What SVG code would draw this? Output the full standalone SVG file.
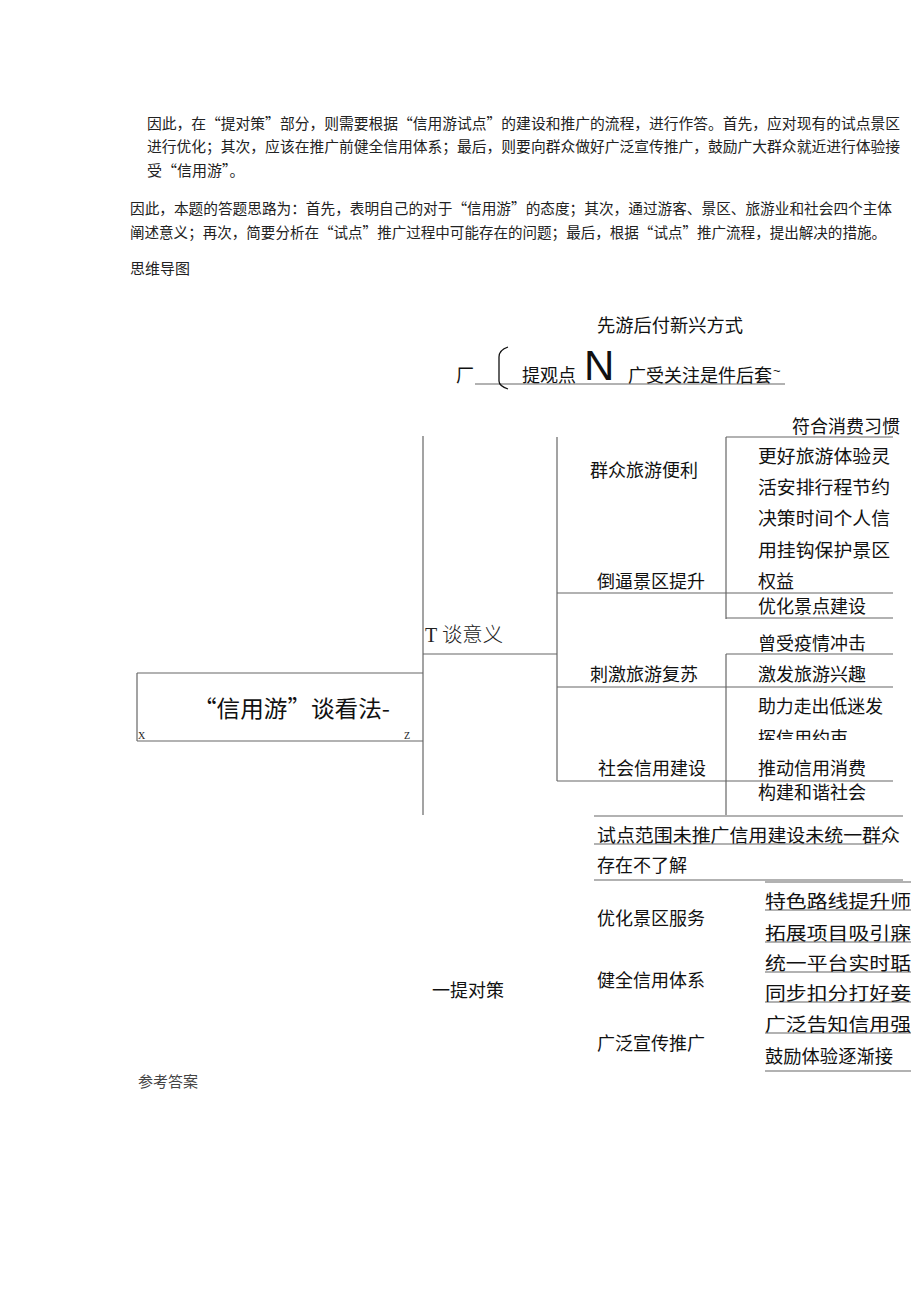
<svg xmlns="http://www.w3.org/2000/svg" width="920" height="1301" viewBox="0 0 920 1301">
<style>
.p{font-family:"Noto Sans CJK SC","Noto Sans CJK JP",sans-serif;font-size:15px;fill:#222}
.t{font-family:"Noto Sans CJK SC","Noto Sans CJK JP",sans-serif;font-size:18px;fill:#111}
.s{font-family:"Liberation Serif",serif;fill:#222}
.ln{stroke:#666;stroke-width:1.2;fill:none}
</style>
<defs>
<clipPath id="cut"><rect x="740" y="720" width="170" height="20"/></clipPath>
</defs>
<rect width="920" height="1301" fill="#fff"/>
<g id="intro">
<text class="p" x="147" y="129" textLength="753" lengthAdjust="spacingAndGlyphs">因此，在“提对策”部分，则需要根据“信用游试点”的建设和推广的流程，进行作答。首先，应对现有的试点景区</text>
<text class="p" x="147" y="152" textLength="753" lengthAdjust="spacingAndGlyphs">进行优化；其次，应该在推广前健全信用体系；最后，则要向群众做好广泛宣传推广，鼓励广大群众就近进行体验接</text>
<text class="p" x="147" y="176">受“信用游”。</text>
<text class="p" x="130" y="214" textLength="762" lengthAdjust="spacingAndGlyphs">因此，本题的答题思路为：首先，表明自己的对于“信用游”的态度；其次，通过游客、景区、旅游业和社会四个主体</text>
<text class="p" x="130" y="238" textLength="756" lengthAdjust="spacingAndGlyphs">阐述意义；再次，简要分析在“试点”推广过程中可能存在的问题；最后，根据“试点”推广流程，提出解决的措施。</text>
<text class="p" x="130" y="274">思维导图</text>
<text class="p" x="138" y="1087" style="fill:#444">参考答案</text>
</g>
<g id="connectors">
<line class="ln" x1="475" y1="384" x2="785" y2="384"/>
<path d="M508,347 Q499,350 499,357 L499,381 Q499,386 508,389" stroke="#111" stroke-width="1.3" fill="none"/>
<line class="ln" x1="137" y1="673" x2="423" y2="673"/>
<line class="ln" x1="137" y1="741" x2="423" y2="741"/>
<line class="ln" x1="137" y1="673" x2="137" y2="741"/>
<line class="ln" x1="423" y1="436" x2="423" y2="815"/>
<line class="ln" x1="423" y1="654" x2="557" y2="654"/>
<line class="ln" x1="557" y1="437" x2="557" y2="781"/>
<line class="ln" x1="726" y1="437" x2="726" y2="619"/>
<line class="ln" x1="726" y1="654" x2="726" y2="815"/>
<line class="ln" x1="726" y1="437" x2="893" y2="437"/>
<line class="ln" x1="557" y1="593" x2="893" y2="593"/>
<line class="ln" x1="726" y1="618" x2="893" y2="618"/>
<line class="ln" x1="726" y1="654" x2="893" y2="654"/>
<line class="ln" x1="557" y1="687" x2="893" y2="687"/>
<line class="ln" x1="557" y1="781" x2="893" y2="781"/>
<line class="ln" x1="594" y1="816" x2="903" y2="816"/>
<line class="ln" x1="594" y1="844" x2="883" y2="844"/>
<line class="ln" x1="594" y1="880" x2="903" y2="880"/>
<line class="ln" x1="765" y1="882" x2="911" y2="882"/>
<line class="ln" x1="765" y1="910" x2="911" y2="910"/>
<line class="ln" x1="765" y1="942" x2="911" y2="942"/>
<line class="ln" x1="765" y1="972" x2="911" y2="972"/>
<line class="ln" x1="765" y1="1002" x2="911" y2="1002"/>
<line class="ln" x1="765" y1="1033" x2="911" y2="1033"/>
<line class="ln" x1="765" y1="1071" x2="911" y2="1071"/>
</g>
<g id="top-branch">
<text class="t" x="597" y="332" textLength="146" lengthAdjust="spacingAndGlyphs">先游后付新兴方式</text>
<text class="t" x="456" y="382">厂</text>
<text class="t" x="522" y="382">提观点</text>
<text x="584" y="380" style="font-family:'Liberation Sans',sans-serif;font-size:42px;fill:#111">N</text>
<text class="t" x="628" y="382">广受关注是件后套<tspan dx="1" dy="-7" style="font-family:'Liberation Sans',sans-serif;font-size:13px">~</tspan></text>
</g>
<g id="root">
<text x="193" y="717" textLength="197" lengthAdjust="spacingAndGlyphs" style="font-family:'Noto Sans CJK SC',sans-serif;font-size:23px;fill:#111">“信用游”谈看法-</text>
<text class="s" x="138" y="739" style="font-size:10px">X</text>
<text class="s" x="404" y="739" style="font-size:10px">Z</text>
</g>
<g id="significance">
<text class="s" x="425" y="642" style="font-size:20px">T</text>
<text x="442" y="642" textLength="61" lengthAdjust="spacingAndGlyphs" style="font-family:'Noto Sans CJK SC',sans-serif;font-size:20px;font-weight:300;fill:#222">谈意义</text>
</g>
<g id="n-qunzhong">
<text class="t" x="590" y="477">群众旅游便利</text>
<text class="t" x="792" y="433">符合消费习惯</text>
<text class="t" x="758" y="463" textLength="132" lengthAdjust="spacingAndGlyphs">更好旅游体验灵</text>
<text class="t" x="758" y="494" textLength="132" lengthAdjust="spacingAndGlyphs">活安排行程节约</text>
<text class="t" x="758" y="525" textLength="132" lengthAdjust="spacingAndGlyphs">决策时间个人信</text>
<text class="t" x="758" y="557" textLength="132" lengthAdjust="spacingAndGlyphs">用挂钩保护景区</text>
<text class="t" x="758" y="588">权益</text>
</g>
<g id="n-jingqu">
<text class="t" x="597" y="588">倒逼景区提升</text>
<text class="t" x="758" y="613">优化景点建设</text>
</g>
<g id="n-lvyou">
<text class="t" x="590" y="681">刺激旅游复苏</text>
<text class="t" x="758" y="650">曾受疫情冲击</text>
<text class="t" x="758" y="681">激发旅游兴趣</text>
</g>
<g id="n-shehui">
<text class="t" x="598" y="775">社会信用建设</text>
<text class="t" x="758" y="713" textLength="125" lengthAdjust="spacingAndGlyphs">助力走出低迷发</text>
<text class="t" x="758" y="745" clip-path="url(#cut)">挥信用约束</text>
<text class="t" x="758" y="775">推动信用消费</text>
<text class="t" x="758" y="799">构建和谐社会</text>
</g>
<g id="problems">
<text class="t" x="597" y="842" textLength="303" lengthAdjust="spacingAndGlyphs">试点范围未推广信用建设未统一群众</text>
<text class="t" x="597" y="872">存在不了解</text>
</g>
<g id="countermeasures">
<text class="t" x="432" y="997">一提对策</text>
<text class="t" x="597" y="925">优化景区服务</text>
<text class="t" x="597" y="987">健全信用体系</text>
<text class="t" x="597" y="1050">广泛宣传推广</text>
<text class="t" x="765" y="908" textLength="146" lengthAdjust="spacingAndGlyphs">特色路线提升师</text>
<text class="t" x="765" y="940" textLength="146" lengthAdjust="spacingAndGlyphs">拓展项目吸引寐</text>
<text class="t" x="765" y="970" textLength="146" lengthAdjust="spacingAndGlyphs">统一平台实时聒</text>
<text class="t" x="765" y="1000" textLength="146" lengthAdjust="spacingAndGlyphs">同步扣分打好妾</text>
<text class="t" x="765" y="1031" textLength="146" lengthAdjust="spacingAndGlyphs">广泛告知信用强</text>
<text class="t" x="765" y="1063" textLength="128" lengthAdjust="spacingAndGlyphs">鼓励体验逐渐接</text>
</g>
</svg>
